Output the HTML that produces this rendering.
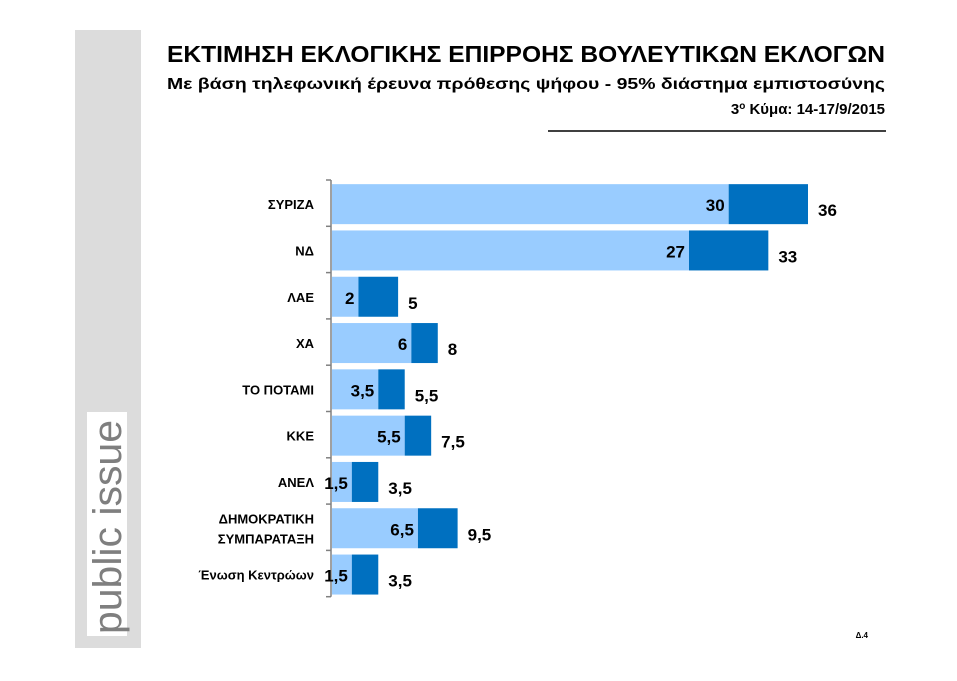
<!DOCTYPE html>
<html><head><meta charset="utf-8"><style>
body{margin:0;width:957px;height:676px;background:#fff;overflow:hidden;font-family:"Liberation Sans","DejaVu Sans",sans-serif}
</style></head><body>
<svg width="957" height="676" xmlns="http://www.w3.org/2000/svg">
<rect x="75" y="30" width="66" height="618" fill="#dcdcdc"/>
<rect x="87" y="412" width="40" height="224" fill="#fff"/>
<text transform="translate(121,634) rotate(-90)" font-size="40" fill="#7f7f7f" textLength="214" lengthAdjust="spacingAndGlyphs">public issue</text>
<text x="885" y="62" text-anchor="end" font-size="23" font-weight="bold" fill="#000" textLength="718" lengthAdjust="spacingAndGlyphs">ΕΚΤΙΜΗΣΗ ΕΚΛΟΓΙΚΗΣ ΕΠΙΡΡΟΗΣ ΒΟΥΛΕΥΤΙΚΩΝ ΕΚΛΟΓΩΝ</text>
<text x="885" y="89" text-anchor="end" font-size="16" font-weight="bold" fill="#000" textLength="718" lengthAdjust="spacingAndGlyphs">Με βάση τηλεφωνική έρευνα πρόθεσης ψήφου - 95% διάστημα εμπιστοσύνης</text>
<text x="885" y="114" text-anchor="end" font-size="15" font-weight="bold" fill="#000">3<tspan font-size="10" dy="-5">ο</tspan><tspan dy="5"> Κύμα: 14-17/9/2015</tspan></text>
<line x1="548" y1="131" x2="886" y2="131" stroke="#000" stroke-width="1.5"/>
<text x="868" y="638" text-anchor="end" font-size="8" font-weight="bold">Δ.4</text>
<g id="plot"></g>
</svg>
<script>
const categories=["ΣΥΡΙΖΑ","ΝΔ","ΛΑΕ","ΧΑ","ΤΟ ΠΟΤΑΜΙ","ΚΚΕ","ΑΝΕΛ","ΔΗΜΟΚΡΑΤΙΚΗ|ΣΥΜΠΑΡΑΤΑΞΗ","Ένωση Κεντρώων"];
const lowValues=[30,27,2,6,3.5,5.5,1.5,6.5,1.5];
const highValues=[36,33,5,8,5.5,7.5,3.5,9.5,3.5];
const ns="http://www.w3.org/2000/svg";
const g=document.getElementById('plot');
const x0=332, unit=476/36, plotTop=180, step=46.3, bh=40;
const xs=v=>x0+v*unit;
const fmt=v=>String(v).replace('.',',');
function mk(t,a){const e=document.createElementNS(ns,t);for(const k in a)e.setAttribute(k,a[k]);g.appendChild(e);return e;}
const ax=mk('line',{x1:331,y1:plotTop,x2:331,y2:plotTop+step*categories.length,stroke:'#808080','stroke-width':1.5});


for(let i=0;i<=categories.length;i++){
 const t=mk('line',{x1:326,y1:plotTop+i*step,x2:331,y2:plotTop+i*step,stroke:'#808080','stroke-width':1.5});
 
 
}
categories.forEach((c,i)=>{
 const y=plotTop+i*step+(step-bh)/2+1, cy=y+bh/2;
 const b1=mk('rect',{x:x0,y:y,width:xs(lowValues[i])-x0,height:bh,fill:'#99ccff'});
 
 
 const b2=mk('rect',{x:xs(lowValues[i]),y:y,width:xs(highValues[i])-xs(lowValues[i]),height:bh,fill:'#0070c0'});
 
 
 const lines=c.split('|');
 lines.forEach((s,j)=>{
  const t=mk('text',{x:314,y:cy+5+(j-(lines.length-1)/2)*20,'text-anchor':'end','font-size':13,'font-weight':'bold'});
  t.textContent=s;
  
  
 });
 const l=mk('text',{x:xs(lowValues[i])-4,y:cy+7,'text-anchor':'end','font-size':17,'font-weight':'bold'});
 l.textContent=fmt(lowValues[i]);
 
 
 const h=mk('text',{x:xs(highValues[i])+10,y:cy+12,'font-size':17,'font-weight':'bold'});
 h.textContent=fmt(highValues[i]);
 
 
});
</script>
</body></html>
